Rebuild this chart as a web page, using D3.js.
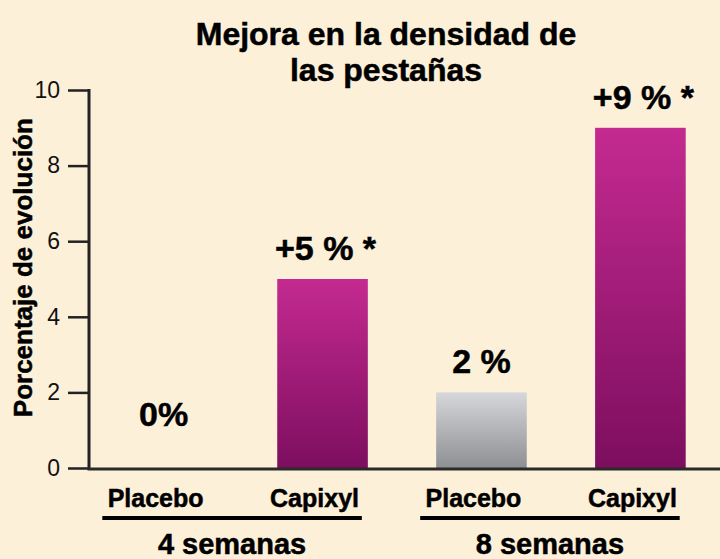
<!DOCTYPE html>
<html>
<head>
<meta charset="utf-8">
<script src="https://cdn.jsdelivr.net/npm/d3@7"></script>
<style>
  html, body { margin: 0; padding: 0; background: #fcf0d9; }
  svg { display: block; font-family: Arial, "Liberation Sans", Helvetica, sans-serif; }
  .bold { font-weight: bold; stroke: #000; stroke-width: 0.5px; }
</style>
</head>
<body>
<svg id="viz" width="720" height="559"></svg>
<script>
// data
const titleLines = ["Mejora en la densidad de", "las pestañas"];
const yTitle = "Porcentaje de evolución";
const groups = ["4 semanas", "8 semanas"];
const products = ["Placebo", "Capixyl"];
const values = [0, 5, 2, 9];          // 4 sem placebo, 4 sem capixyl, 8 sem placebo, 8 sem capixyl
const valueLabels = ["0%", "+5 % *", "2 %", "+9 % *"];
const yTicks = [0, 2, 4, 6, 8, 10];

const bars = values.map(function (v, i) {
    return {
        id: i,
        group: groups[Math.floor(i / 2)],
        product: products[i % 2],
        value: v,
        label: valueLabels[i]
    };
});

const svg = d3.select("#viz");
const W = 720, H = 559;
const axisX = 89, axisY0 = 468;

// background
svg.append("rect").attr("width", W).attr("height", H).attr("fill", "#fcf0d9");

// gradients
const defs = svg.append("defs");
function grad(id, top, bottom) {
    const g = defs.append("linearGradient").attr("id", id)
        .attr("x1", 0).attr("y1", 0).attr("x2", 0).attr("y2", 1);
    g.append("stop").attr("offset", "0%").attr("stop-color", top);
    g.append("stop").attr("offset", "100%").attr("stop-color", bottom);
}
grad("gCapixyl", "#c42a90", "#7d0e5f");
grad("gPlacebo", "#d6d7da", "#8d8f93");

// scales
const y = d3.scaleLinear().domain([0, 10]).range([axisY0, 90]);
const x = d3.scaleBand()
    .domain(bars.map(function (d) { return d.id; }))
    .range([73, 731])
    .paddingInner(0.43)
    .paddingOuter(0.285);

// title
svg.append("text")
    .attr("class", "bold")
    .attr("x", 386).attr("y", 45)
    .attr("text-anchor", "middle")
    .style("font-size", "32px")
    .selectAll("tspan").data(titleLines).enter().append("tspan")
    .attr("x", 386).attr("dy", function (d, i) { return i ? 36 : 0; })
    .text(function (d) { return d; });

// y axis
const yAxis = d3.axisLeft(y).tickValues(yTicks).tickSize(21).tickPadding(8);
const gy = svg.append("g").attr("transform", "translate(" + axisX + ",0)").call(yAxis);
gy.select(".domain").remove();
gy.selectAll(".tick line").attr("stroke", "#222").attr("stroke-width", 2.5);
gy.selectAll(".tick text").attr("fill", "#111").style("font-size", "23px");
svg.append("line")
    .attr("x1", axisX).attr("x2", axisX)
    .attr("y1", y(10) - 1).attr("y2", axisY0 + 1.5)
    .attr("stroke", "#222").attr("stroke-width", 3);

svg.append("text")
    .attr("class", "bold")
    .attr("transform", "translate(32," + y(5.3) + ") rotate(-90)")
    .attr("text-anchor", "middle")
    .style("font-size", "26px")
    .text(yTitle);

// bars
svg.selectAll(".bar")
    .data(bars)
    .enter().append("rect")
    .attr("class", "bar")
    .attr("x", function (d) { return x(d.id); })
    .attr("width", x.bandwidth())
    .attr("y", function (d) { return y(d.value); })
    .attr("height", function (d) { return axisY0 - y(d.value); })
    .attr("fill", function (d) { return d.product === "Capixyl" ? "url(#gCapixyl)" : "url(#gPlacebo)"; });

// x axis line
svg.append("line")
    .attr("x1", axisX - 1.5).attr("x2", W)
    .attr("y1", axisY0 + 1).attr("y2", axisY0 + 1)
    .attr("stroke", "#2a2a2a").attr("stroke-width", 3);

// value labels
svg.selectAll(".vlab")
    .data(bars)
    .enter().append("text")
    .attr("class", "vlab bold")
    .attr("x", function (d) { return x(d.id) + x.bandwidth() / 2 + (d.label.indexOf("*") > 0 ? 3 : 0); })
    .attr("y", function (d) { return Math.min(y(d.value) - 19, y(1.1)); })
    .attr("text-anchor", "middle")
    .style("font-size", "34px")
    .text(function (d) { return d.label; });

// category labels
svg.selectAll(".clab")
    .data(bars)
    .enter().append("text")
    .attr("class", "clab bold")
    .attr("x", function (d) { return x(d.id) + x.bandwidth() / 2 - 8; })
    .attr("y", 507)
    .attr("text-anchor", "middle")
    .style("font-size", "25px")
    .text(function (d) { return d.product; });

// group underline + label
groups.forEach(function (g, gi) {
    const first = bars[gi * 2], last = bars[gi * 2 + 1];
    const x0 = x(first.id) - 16, x1 = x(last.id) + x.bandwidth() - 6;
    svg.append("line")
        .attr("x1", x0).attr("x2", x1)
        .attr("y1", 518).attr("y2", 518)
        .attr("stroke", "#000").attr("stroke-width", 4);
    svg.append("text")
        .attr("class", "bold")
        .attr("x", (x0 + x1) / 2).attr("y", 554)
        .attr("text-anchor", "middle")
        .style("font-size", "29px")
        .text(g);
});
</script>
</body>
</html>
